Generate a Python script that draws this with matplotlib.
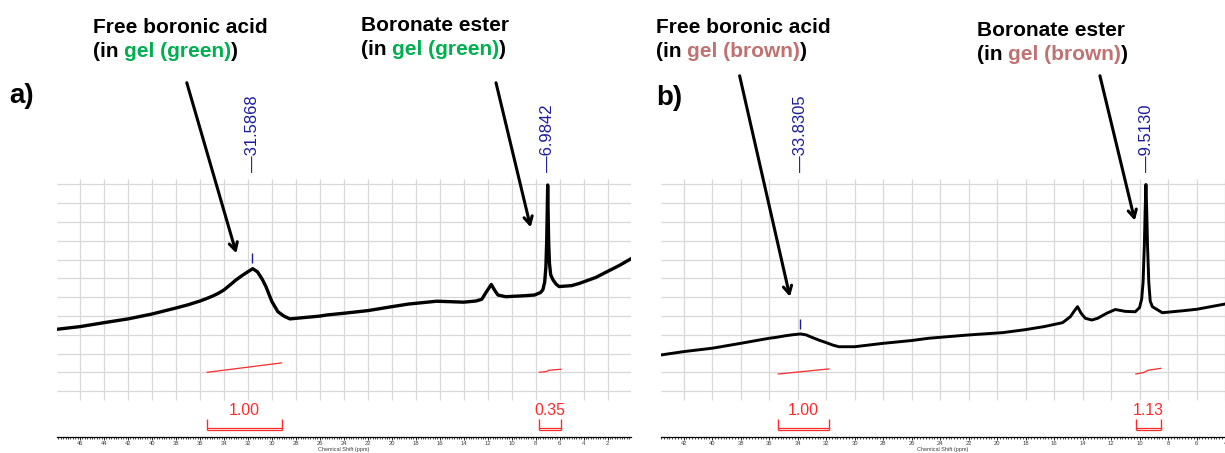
import numpy as np
import matplotlib
matplotlib.use('Agg')
import matplotlib.pyplot as plt

plt.rcParams['font.family'] = ['Liberation Sans', 'DejaVu Sans']

# ---- spectrum a) gel (green) ----
ppm_a = [47.9, 46, 44, 42, 40, 38, 37, 36, 35.5, 35, 34.5, 34, 33.5, 33, 32.5, 32, 31.6,
         31.2, 30.8, 30.5, 30.0, 29.5, 29.0, 28.5, 28, 26, 25.4, 24, 22, 20, 18.6, 16.25,
         14, 13.0, 12.5, 12.1, 11.7, 11.4, 11.15, 10.5, 9, 8.1, 7.6, 7.4, 7.25, 7.15,
         7.08, 7.03, 7.0, 6.97, 6.92, 6.85, 6.75, 6.55, 6.3, 6.05, 5, 4.35, 3, 2.3, 1, 0.05]
int_a = [3.30, 3.44, 3.65, 3.85, 4.11, 4.43, 4.60, 4.80, 4.92, 5.05, 5.20, 5.39, 5.65,
         5.92, 6.15, 6.36, 6.52, 6.35, 5.95, 5.57, 4.77, 4.23, 4.00, 3.85, 3.88, 4.00,
         4.06, 4.15, 4.29, 4.50, 4.64, 4.79, 4.74, 4.80, 4.89, 5.30, 5.68, 5.35, 5.12,
         5.03, 5.08, 5.12, 5.25, 5.40, 5.8, 6.6, 8.0, 9.8, 10.97, 9.8, 8.0, 6.8, 6.2,
         5.92, 5.7, 5.57, 5.62, 5.74, 6.05, 6.28, 6.7, 7.05]

# ---- spectrum b) gel (brown) ----
ppm_b = [43.61, 42, 40, 38, 36, 35.5, 34.8, 34.3, 33.8, 33.4, 33.0, 32.5, 32, 31.5, 31.1,
         30, 28, 26, 24.8, 22.1, 19.6, 18, 16.7, 15.4, 14.85, 14.6, 14.35, 14.1, 13.8,
         13.35, 12.95, 12.3, 11.7, 11.0, 10.3, 10.0, 9.85, 9.75, 9.66, 9.6, 9.55, 9.5,
         9.44, 9.35, 9.25, 9.1, 8.4, 7, 6, 4.0]
int_b = [1.93, 2.11, 2.29, 2.55, 2.82, 2.87, 2.96, 3.01, 3.05, 3.0, 2.87, 2.72, 2.59,
         2.45, 2.37, 2.37, 2.55, 2.70, 2.82, 2.99, 3.12, 3.28, 3.44, 3.65, 3.97, 4.25,
         4.5, 4.15, 3.88, 3.79, 3.88, 4.15, 4.35, 4.25, 4.23, 4.45, 4.9, 5.8, 7.8, 9.8,
         11.0, 9.8, 7.8, 5.8, 4.8, 4.5, 4.18, 4.28, 4.36, 4.64]

# peak picking labels
peaks_a = [31.5868, 6.9842]
peaks_b = [33.8305, 9.5130]

# integrals: (start ppm, end ppm, value), integral curve ends
integ_a = [(35.4, 29.2, '1.00'), (7.7, 5.9, '0.35')]
integ_b = [(35.36, 31.8, '1.00'), (10.26, 8.48, '1.13')]
icurve_a = [([35.4, 29.2], [1.01, 1.51]), ([7.7, 7.1, 6.9, 5.9], [1.01, 1.05, 1.12, 1.17])]
icurve_b = [([35.36, 31.8], [0.92, 1.19]), ([10.26, 9.7, 9.4, 8.51], [0.92, 1.0, 1.12, 1.22])]

W, H = 1225, 453
fig = plt.figure(figsize=(W / 100, H / 100), dpi=100)

BLUE = '#1c1c9c'
RED = '#ff2a2a'
GRID = '#d8d8d8'


def make_axes(left_px, right_px, xlim):
    ax = fig.add_axes([left_px / W, 16.3 / H, (right_px - left_px) / W, 436.7 / H])
    ax.set_xlim(*xlim)
    ax.set_ylim(-2.415, 20.81)
    for s in ['top', 'left', 'right']:
        ax.spines[s].set_visible(False)
    ax.spines['bottom'].set_linewidth(0.9)
    ax.set_yticks([])
    hi = int(np.floor(xlim[0] / 2) * 2)
    lo = int(np.ceil(xlim[1] / 2) * 2)
    majors = np.arange(lo, hi + 1, 2)
    ax.set_xticks(majors)
    ax.set_xticklabels([str(m) for m in majors], fontsize=4.2, color='#404040')
    ax.set_xticks(np.arange(np.ceil(xlim[1] * 5) / 5, xlim[0], 0.2), minor=True)
    ax.tick_params(axis='x', which='major', length=2.4, width=0.6, pad=1, direction='out')
    ax.tick_params(axis='x', which='minor', length=1.3, width=0.5, direction='out')
    ax.set_xlabel('Chemical Shift (ppm)', fontsize=4, color='#404040', labelpad=0.5)
    # grid
    ax.hlines(np.arange(0, 12), xlim[0], xlim[1], color=GRID, lw=0.9, zorder=0)
    ax.vlines(majors, -0.46, 11.28, color=GRID, lw=0.9, zorder=0)
    return ax


def draw_panel(ax, ppm, inten, peaks, marks, integ, icurve, lw):
    ax.plot(ppm, inten, color='black', lw=lw, zorder=3)
    for p in peaks:
        ax.text(p, 11.66, '\u2014' + '%.4f' % p, rotation=90, ha='center', va='bottom',
                fontsize=12, color=BLUE)
    for mx, y0, y1 in marks:
        ax.vlines(mx, y0, y1, color=BLUE, lw=1.0)
    for x0, x1, lab in integ:
        ax.vlines([x0, x1], -2.06, -1.47, color=RED, lw=1.0)
        ax.hlines([-1.96, -2.06], x1, x0, color=RED, lw=0.9)
        ax.text((x0 + x1) / 2, -1.0, lab, ha='center', va='center', fontsize=11.4, color=RED)
    for xs, ys in icurve:
        ax.plot(xs, ys, color=RED, lw=0.9)


def arrow(ax, start, end):
    ax.annotate('', xy=end, xytext=start, annotation_clip=False,
                arrowprops=dict(arrowstyle='->,head_length=0.55,head_width=0.3',
                                lw=2.2, color='black', shrinkA=0, shrinkB=0))


def title(x, y, top, color_word, color):
    fs = 15
    fig.text(x / W, 1 - y / H, top, fontsize=fs, fontweight='bold', ha='left', va='baseline')
    y2 = y + 24
    r = fig.canvas.get_renderer()
    t1 = fig.text(x / W, 1 - y2 / H, '(in', fontsize=fs, fontweight='bold', ha='left', va='baseline')
    w1 = t1.get_window_extent(r).width
    xx = x + w1 + 0.278 * fs * 100 / 72
    t2 = fig.text(xx / W, 1 - y2 / H, color_word, fontsize=fs, fontweight='bold', ha='left',
                  va='baseline', color=color)
    w2 = t2.get_window_extent(r).width
    fig.text((xx + w2) / W, 1 - y2 / H, ')', fontsize=fs, fontweight='bold', ha='left', va='baseline')


GREEN = '#00b050'
BROWN = '#c07272'

ax_a = make_axes(57.3, 631, (47.9, 0.05))
draw_panel(ax_a, ppm_a, int_a, peaks_a, [(31.62, 6.84, 7.34)], integ_a, icurve_a, 2.4)
arrow(ax_a, (37.1, 16.41), (32.97, 7.34))
arrow(ax_a, (11.31, 16.41), (8.42, 8.72))

ax_b = make_axes(660.7, 1225, (43.61, 4.0))
draw_panel(ax_b, ppm_b, int_b, peaks_b, [(33.82, 3.30, 3.83)], integ_b, icurve_b, 2.1)
arrow(ax_b, (38.07, 16.78), (34.54, 5.03))
arrow(ax_b, (12.78, 16.78), (10.33, 9.08))

title(93, 33, 'Free boronic acid', 'gel (green)', GREEN)
title(361, 31, 'Boronate ester', 'gel (green)', GREEN)
title(656, 33, 'Free boronic acid', 'gel (brown)', BROWN)
title(977, 36, 'Boronate ester', 'gel (brown)', BROWN)
fig.text(9 / W, 1 - 103 / H, 'a)', fontsize=20, fontweight='bold', ha='left', va='baseline')
fig.text(656 / W, 1 - 105 / H, 'b)', fontsize=20, fontweight='bold', ha='left', va='baseline')

fig.savefig('out.png', dpi=100)
